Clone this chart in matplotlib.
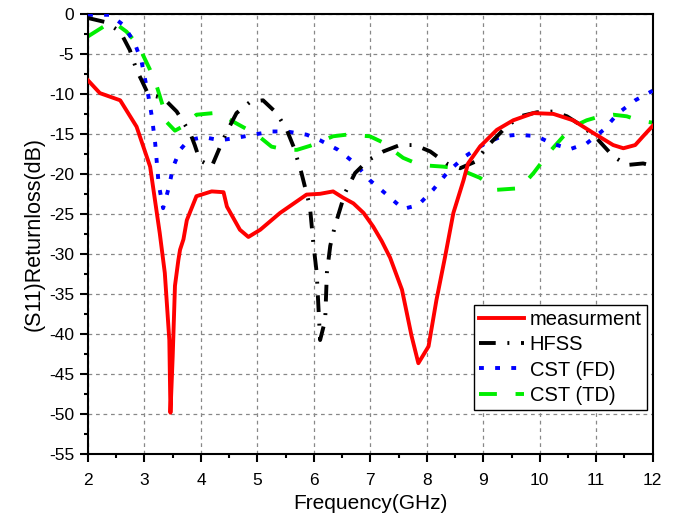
import matplotlib
matplotlib.use("Agg")
import matplotlib.pyplot as plt
from matplotlib.ticker import MultipleLocator

plt.rcParams['font.family'] = ['Liberation Sans', 'DejaVu Sans']
plt.rcParams['axes.unicode_minus'] = False

# measured S11
meas_f = [2.0, 2.21, 2.57, 2.86, 3.10, 3.27, 3.36, 3.40, 3.44, 3.46, 3.50, 3.54, 3.60, 3.63, 3.69,
          3.75, 3.92, 4.19, 4.40, 4.46, 4.69, 4.84, 5.05, 5.40, 5.87, 6.11, 6.34, 6.52,
          6.70, 6.88, 7.05, 7.20, 7.35, 7.56, 7.73, 7.85, 8.03, 8.17, 8.32, 8.47, 8.65,
          8.73, 8.94, 9.24, 9.53, 9.89, 10.24, 10.59, 10.95, 11.30, 11.48, 11.69, 11.83, 12.0]
meas_s = [-8.3, -9.9, -10.8, -14.1, -19.1, -27.4, -32.4, -36.6, -40.8, -49.9, -42.8, -34.0, -30.8, -29.5, -28.2,
          -25.8, -22.8, -22.2, -22.3, -24.1, -27.0, -27.9, -27.0, -24.9, -22.6, -22.5, -22.2, -23.0,
          -23.7, -24.9, -26.6, -28.4, -30.5, -34.5, -40.3, -43.7, -41.6, -35.8, -30.5, -24.9, -20.8,
          -18.7, -16.6, -14.5, -13.3, -12.4, -12.5, -13.3, -14.9, -16.4, -16.8, -16.4, -15.3, -14.0]

# HFSS simulation
hfss_f = [2.0, 2.30, 2.57, 2.74, 2.86, 2.95, 3.07, 3.33, 3.57, 3.81, 3.89, 3.98, 4.19, 4.34,
          4.46, 4.63, 4.87, 5.10, 5.34, 5.52, 5.64, 5.78, 5.93, 5.99, 6.05, 6.08, 6.11, 6.20,
          6.23, 6.29, 6.37, 6.55, 6.73, 6.96, 7.23, 7.52, 7.79, 8.06, 8.35, 8.59, 8.85, 9.12,
          9.38, 9.65, 9.95, 10.24, 10.48, 10.77, 11.04, 11.30, 11.54, 11.83, 12.0]
hfss_s = [-0.5, -1.0, -2.2, -4.5, -7.0, -8.3, -10.1, -10.5, -12.2, -14.9, -16.4, -18.3, -19.1, -16.6,
          -14.7, -12.4, -11.0, -10.8, -12.4, -14.5, -16.6, -19.9, -24.1, -28.7, -32.4, -36.6, -40.8, -38.3,
          -32.4, -29.0, -26.6, -22.4, -19.9, -18.3, -17.2, -16.4, -16.4, -17.2, -18.7, -19.3, -18.5, -16.2,
          -14.3, -12.8, -12.3, -12.2, -12.8, -14.1, -15.8, -17.8, -18.9, -18.7, -19.0]

# CST frequency domain
fd_f = [2.0, 2.39, 2.63, 2.83, 2.95, 3.07, 3.13, 3.19, 3.25, 3.33, 3.42, 3.51, 3.63, 3.78,
        4.04, 4.34, 4.63, 4.93, 5.25, 5.52, 5.87, 6.11, 6.43, 6.73, 6.99, 7.29, 7.58, 7.85,
        8.11, 8.38, 8.68, 9.03, 9.33, 9.62, 9.95, 10.21, 10.54, 10.83, 11.13, 11.39, 11.69, 12.0]
fd_s = [-0.1, -0.1, -1.4, -3.7, -6.0, -10.3, -12.8, -16.2, -21.2, -24.3, -22.0, -19.1, -17.0, -15.8,
        -15.4, -15.8, -15.5, -15.1, -14.7, -14.7, -15.1, -15.8, -17.0, -18.7, -20.8, -22.6, -24.4, -23.9,
        -22.0, -19.7, -17.8, -16.2, -15.3, -15.1, -15.3, -16.2, -16.9, -16.2, -14.5, -12.4, -10.8, -9.6]

# CST time domain
td_f = [2.0, 2.27, 2.45, 2.68, 2.89, 3.10, 3.22, 3.33, 3.39, 3.54, 3.72, 3.92, 4.22, 4.46,
        4.63, 4.99, 5.25, 5.52, 5.70, 5.93, 6.34, 6.58, 6.99, 7.20, 7.58, 7.88, 8.29, 8.53,
        8.94, 9.24, 9.65, 9.89, 10.18, 10.42, 10.65, 10.83, 11.07, 11.30, 11.54, 11.75, 12.0]
td_s = [-2.8, -1.6, -1.0, -2.2, -3.9, -7.0, -9.1, -11.6, -13.5, -14.6, -13.9, -12.6, -12.4, -13.0,
        -13.7, -15.1, -16.6, -17.0, -17.0, -16.5, -15.3, -15.1, -15.3, -16.0, -18.0, -18.9, -19.1, -19.3,
        -20.5, -22.0, -21.8, -19.9, -17.2, -15.3, -13.9, -13.3, -12.8, -12.6, -12.8, -13.3, -13.6]

fig = plt.figure(figsize=(6.78, 5.15), dpi=100)
ax = fig.add_axes([0.1298, 0.1194, 0.8329, 0.8534])

lw = 2.8
ax.plot(meas_f, meas_s, color='#ff0000', lw=lw, label='measurment', zorder=5)
ax.plot(hfss_f, hfss_s, color='black', lw=lw, dashes=(4.3, 3.0, 0.5, 3.0), label='HFSS', zorder=4)
ax.plot(fd_f, fd_s, color='#0000ff', lw=lw, dashes=(1.25, 2.9), label='CST (FD)', zorder=3)
ax.plot(td_f, td_s, color='#00ee00', lw=lw, dashes=(4.6, 4.8), label='CST (TD)', zorder=2)

ax.set_xlim(2, 12)
ax.set_ylim(-55, 0)
ax.xaxis.set_major_locator(MultipleLocator(1))
ax.xaxis.set_minor_locator(MultipleLocator(0.5))
ax.yaxis.set_major_locator(MultipleLocator(5))
ax.yaxis.set_minor_locator(MultipleLocator(2.5))
ax.tick_params(which='both', direction='out', top=False, right=False, width=1.5, labelsize=12.5)
ax.tick_params(which='major', length=6)
ax.tick_params(which='minor', length=3)
ax.tick_params(axis='x', which='major', pad=8)
ax.tick_params(axis='y', which='major', pad=4)
for s in ax.spines.values():
    s.set_linewidth(1.5)

ax.grid(True, which='major', color='#888888', ls=(0, (3, 3)), lw=0.9)

ax.set_xlabel('Frequency(GHz)', fontsize=15, labelpad=4)
ax.set_ylabel('(S11)Returnloss(dB)', fontsize=15.5, labelpad=3)

leg = ax.legend(loc='lower right', bbox_to_anchor=(0.9894, 0.099), fontsize=14.5,
                frameon=True, fancybox=False, edgecolor='black', framealpha=1,
                handlelength=2.2, handletextpad=0.3, borderpad=0.25, labelspacing=0.32,
                borderaxespad=0)
leg.get_frame().set_linewidth(1.0)

fig.savefig('out.png', dpi=100)
